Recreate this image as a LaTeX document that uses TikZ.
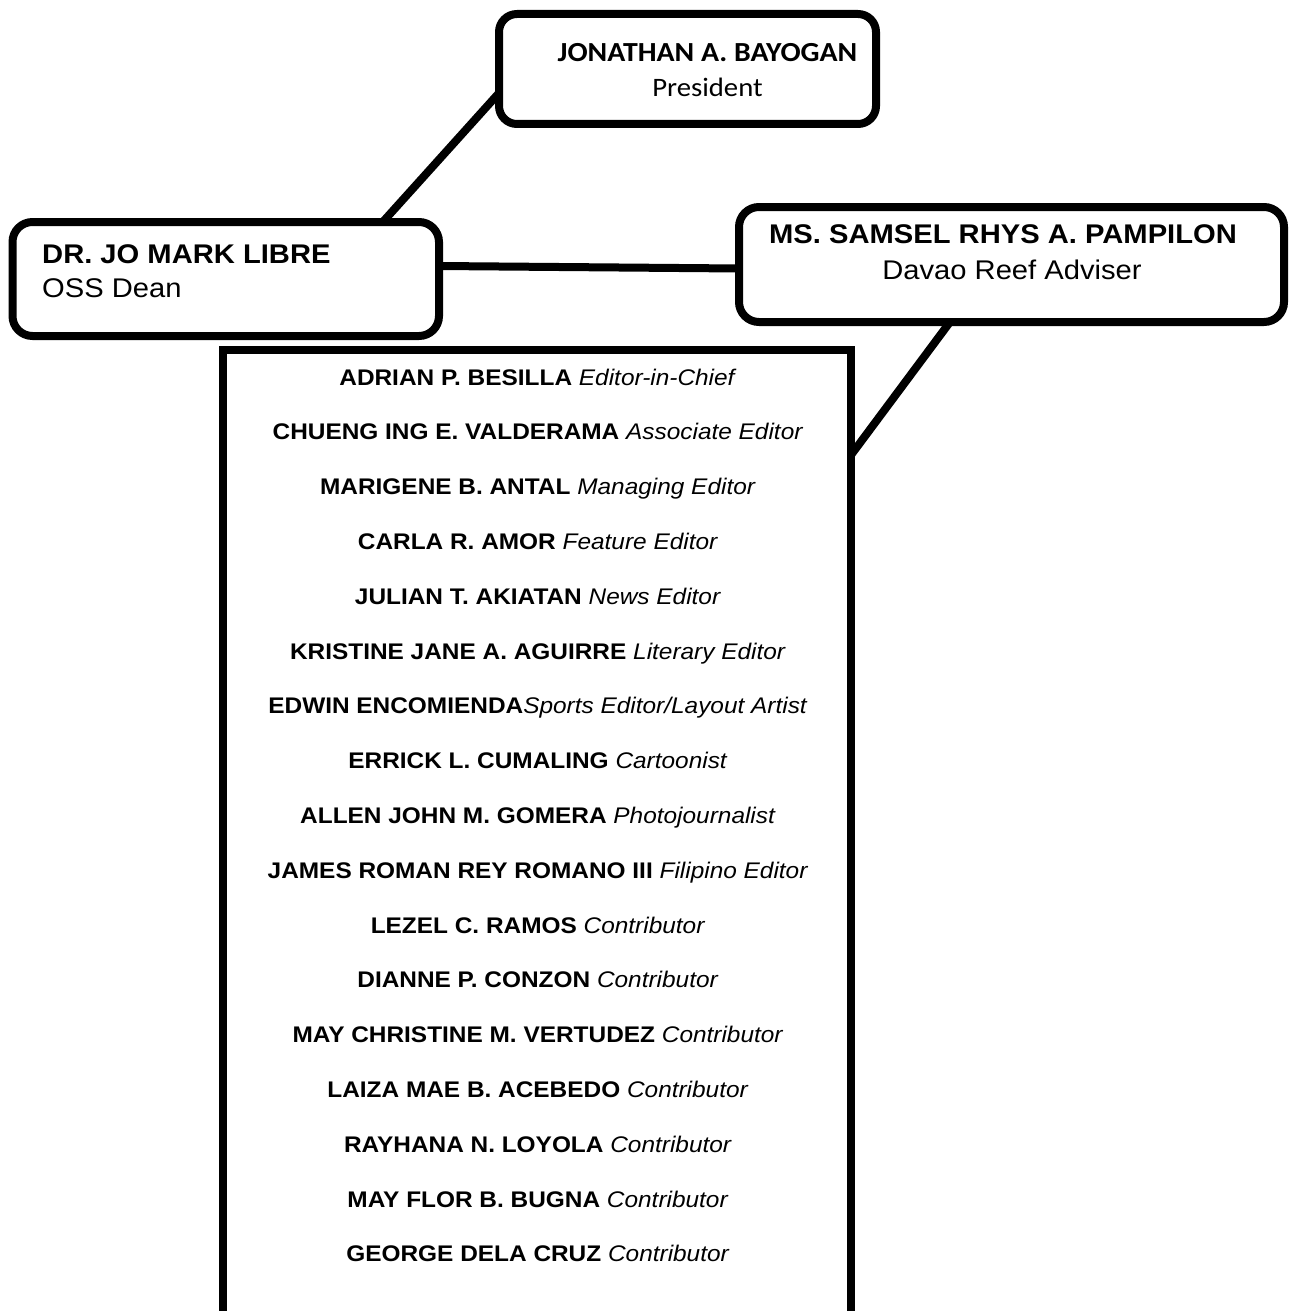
\documentclass[tikz,border=0pt]{standalone}
\usepackage{fontspec}
\newfontfamily\arialf{Liberation Sans}[FakeStretch=1.08]
\newfontfamily\calf{Carlito}[FakeStretch=1.08]
\usetikzlibrary{calc,backgrounds}
\begin{document}
\begin{tikzpicture}[x=1pt,y=-1pt,
  orgbox/.style={draw=black, line width=8pt, fill=white, inner sep=0pt, outer sep=0pt, rounded corners=20pt},
  staffbox/.style={draw=black, line width=8pt, fill=white, inner sep=0pt, outer sep=0pt},
  conn/.style={draw=black, line width=8pt},
  lst/.style={anchor=base, inner sep=0pt, font=\arialf\fontsize{22.6}{27}\selectfont},
  headtxt/.style={inner sep=0pt, font=\arialf\fontsize{27}{32}\selectfont},
  prestxt/.style={anchor=base, inner sep=0pt, font=\calf\fontsize{26.6}{32}\selectfont}]
\useasboundingbox (0,0) rectangle (1289,1311);
\clip (0,0) rectangle (1289,1311);

% boxes
\node[orgbox, rounded corners=18pt, minimum width=377pt, minimum height=110pt] (pres) at (687.5,69) {};
\node[orgbox, minimum width=426.5pt, minimum height=114pt] (dean) at (225.75,279) {};
\node[orgbox, minimum width=545pt, minimum height=115pt] (adv) at (1011.5,264.5) {};
\node[staffbox, minimum width=628.5pt, minimum height=980pt] (staff) at (536.75,840) {};

% texts
\node[prestxt, font=\calf\fontsize{27.6}{32}\selectfont] (presname) at (707.5,62) {\bfseries JONATHAN A. BAYOGAN};
\node[prestxt] (presrole) at (707.5,97) {President};
\node[headtxt, anchor=base west] (deanname) at (42,263) {\bfseries DR. JO MARK LIBRE};
\node[headtxt, anchor=base west] (deanrole) at (42,297) {OSS Dean};
\node[headtxt, anchor=base] (advname) at (1003,243) {\bfseries MS. SAMSEL RHYS A. PAMPILON};
\node[headtxt, anchor=base] (advrole) at (1012,279) {Davao Reef Adviser};

\node[lst] (r1) at (538,385) {\textbf{ADRIAN P. BESILLA} \textit{Editor-in-Chief}};
\node[lst] (r2) at (538,439.8) {\textbf{CHUENG ING E. VALDERAMA} \textit{Associate Editor}};
\node[lst] (r3) at (538,494.6) {\textbf{MARIGENE B. ANTAL} \textit{Managing Editor}};
\node[lst] (r4) at (538,549.4) {\textbf{CARLA R. AMOR} \textit{Feature Editor}};
\node[lst] (r5) at (538,604.2) {\textbf{JULIAN T. AKIATAN} \textit{News Editor}};
\node[lst] (r6) at (538,659) {\textbf{KRISTINE JANE A. AGUIRRE} \textit{Literary Editor}};
\node[lst] (r7) at (538,713.8) {\textbf{EDWIN ENCOMIENDA}\textit{Sports Editor/Layout Artist}};
\node[lst] (r8) at (538,768.6) {\textbf{ERRICK L. CUMALING} \textit{Cartoonist}};
\node[lst] (r9) at (538,823.4) {\textbf{ALLEN JOHN M. GOMERA} \textit{Photojournalist}};
\node[lst] (r10) at (538,878.2) {\textbf{JAMES ROMAN REY ROMANO III} \textit{Filipino Editor}};
\node[lst] (r11) at (538,933) {\textbf{LEZEL C. RAMOS} \textit{Contributor}};
\node[lst] (r12) at (538,987.8) {\textbf{DIANNE P. CONZON} \textit{Contributor}};
\node[lst] (r13) at (538,1042.6) {\textbf{MAY CHRISTINE M. VERTUDEZ} \textit{Contributor}};
\node[lst] (r14) at (538,1097.4) {\textbf{LAIZA MAE B. ACEBEDO} \textit{Contributor}};
\node[lst] (r15) at (538,1152.2) {\textbf{RAYHANA N. LOYOLA} \textit{Contributor}};
\node[lst] (r16) at (538,1207) {\textbf{MAY FLOR B. BUGNA} \textit{Contributor}};
\node[lst] (r17) at (538,1261.8) {\textbf{GEORGE DELA CRUZ} \textit{Contributor}};

% connectors
\begin{scope}[on background layer]
\fill[white] (0,0) rectangle (1289,1311);
\draw[conn] ([yshift=-24pt]pres.west) -- ([xshift=157pt]dean.north);
\draw[conn] ([yshift=13pt]dean.east) -- ([yshift=-4pt]adv.west);
\draw[conn] ([xshift=-61.5pt]adv.south) -- ([yshift=-105pt]staff.north east);
\end{scope}
\end{tikzpicture}
\end{document}
